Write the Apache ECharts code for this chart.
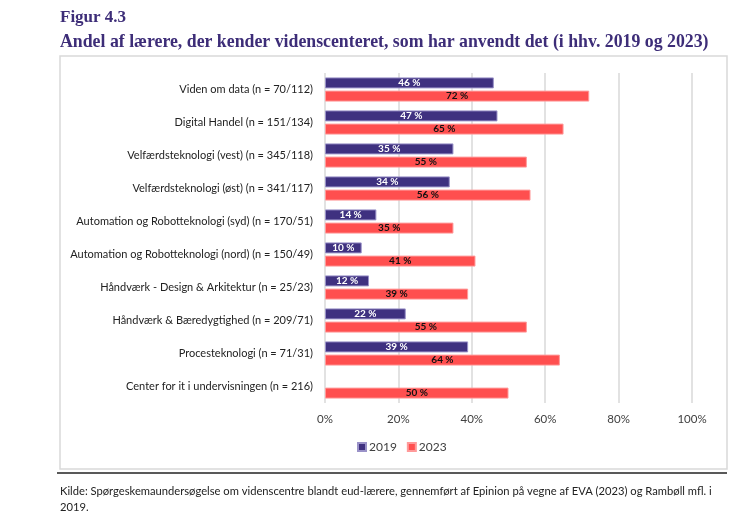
<!DOCTYPE html>
<html>
<head>
<meta charset="utf-8"/>
<title>Figur 4.3</title>
<script src="https://cdn.jsdelivr.net/npm/echarts@6/dist/echarts.min.js"></script>
<style>
html,body{margin:0;padding:0;background:#fff;}
#main{width:750px;height:513px;}
</style>
</head>
<body>
<div id="main"></div>
<script>
// kategorier og andele (%)
var categories = [
    'Viden om data (n = 70/112)',
    'Digital Handel (n = 151/134)',
    'Velfærdsteknologi (vest) (n = 345/118)',
    'Velfærdsteknologi (øst) (n = 341/117)',
    'Automation og Robotteknologi (syd) (n = 170/51)',
    'Automation og Robotteknologi (nord) (n = 150/49)',
    'Håndværk - Design & Arkitektur (n = 25/23)',
    'Håndværk & Bæredygtighed (n = 209/71)',
    'Procesteknologi (n = 71/31)',
    'Center for it i undervisningen (n = 216)'
];
var values2019 = [46, 47, 35, 34, 14, 10, 12, 22, 39, null];
var values2023 = [72, 65, 55, 56, 35, 41, 39, 55, 64, 50];
var seriesNames = ['2019', '2023'];

var labelFont = 'Lato, "Open Sans", sans-serif';
var titleColor = '#3d2d78';

var myChart = echarts.init(document.getElementById('main'));

var option = {
    animation: false,
    title: [
        {
            text: 'Figur 4.3',
            left: 60, top: 9, padding: 0,
            textStyle: {fontFamily: '"Liberation Serif", serif', fontSize: 17, fontWeight: 'bold', color: titleColor}
        },
        {
            text: 'Andel af lærere, der kender videnscenteret, som har anvendt det (i hhv. 2019 og 2023)',
            left: 60, top: 33, padding: 0,
            textStyle: {fontFamily: '"Liberation Serif", serif', fontSize: 17.8, fontWeight: 'bold', color: titleColor}
        }
    ],
    graphic: [
        {
            type: 'rect',
            shape: {x: 60, y: 56, width: 667, height: 413},
            style: {fill: 'none', stroke: '#d9d9d9', lineWidth: 1.5},
            silent: true
        },
        {
            type: 'line',
            shape: {x1: 57, y1: 473, x2: 727, y2: 473},
            style: {stroke: '#222', lineWidth: 1.5},
            silent: true
        },
        {
            type: 'text',
            left: 60, top: 483,
            style: {
                text: 'Kilde: Spørgeskemaundersøgelse om videnscentre blandt eud-lærere, gennemført af Epinion på vegne af EVA (2023) og Rambøll mfl. i\n2019.',
                font: '11.2px ' + labelFont,
                fill: '#222',
                lineHeight: 16
            }
        }
    ],
    legend: {
        data: seriesNames,
        top: 436,
        left: 352,
        itemWidth: 8,
        itemHeight: 8,
        itemGap: 10,
        icon: 'rect',
        textStyle: {fontFamily: labelFont, fontSize: 12, color: '#404040', padding: [0, 0, 0, -2]}
    },
    grid: {left: 325, right: 58, top: 73, bottom: 110, containLabel: false},
    xAxis: {
        type: 'value',
        min: 0, max: 100, interval: 20,
        axisLabel: {formatter: '{value}%', fontFamily: labelFont, fontSize: 11.5, color: '#404040', margin: 10},
        axisLine: {show: false},
        axisTick: {show: false},
        splitLine: {lineStyle: {color: '#d9d9d9', width: 1.5}}
    },
    yAxis: {
        type: 'category',
        data: categories,
        inverse: true,
        axisLabel: {fontFamily: labelFont, fontSize: 11, color: '#222', margin: 12},
        axisLine: {show: false},
        axisTick: {show: false}
    },
    series: [
        {
            name: seriesNames[0],
            type: 'bar',
            data: values2019,
            barWidth: 11,
            barGap: '20%',
            itemStyle: {color: '#3f3180', borderColor: '#9a92c8', borderWidth: 1},
            label: {
                show: true, position: 'inside', formatter: '{c} %',
                fontFamily: labelFont, fontSize: 10, fontWeight: 'bold', color: '#fff'
            }
        },
        {
            name: seriesNames[1],
            type: 'bar',
            data: values2023,
            barWidth: 11,
            itemStyle: {color: '#ff4f4f', borderColor: '#ff9a9a', borderWidth: 1},
            label: {
                show: true, position: 'inside', formatter: '{c} %',
                fontFamily: labelFont, fontSize: 10, fontWeight: 'bold', color: '#111'
            }
        }
    ]
};

myChart.setOption(option);
</script>
</body>
</html>
